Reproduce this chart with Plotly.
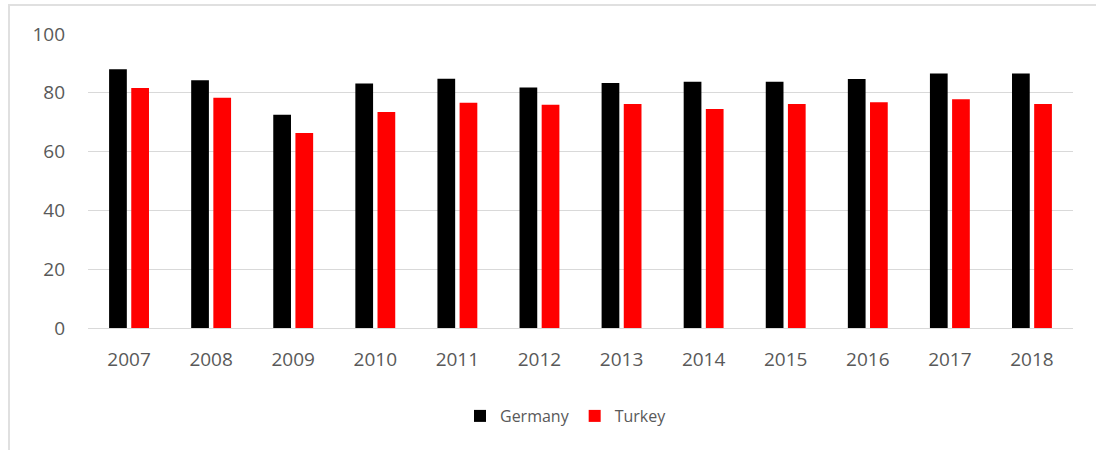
import plotly.graph_objects as go

years = ["2007", "2008", "2009", "2010", "2011", "2012",
         "2013", "2014", "2015", "2016", "2017", "2018"]
germany = [88.0, 84.3, 72.5, 83.2, 84.8, 81.8, 83.3, 83.8, 83.8, 84.7, 86.6, 86.6]
turkey = [81.6, 78.3, 66.3, 73.5, 76.6, 75.9, 76.2, 74.5, 76.2, 76.8, 77.8, 76.2]
y_ticks = [0, 20, 40, 60, 80, 100]

W, H = 1096, 450
L, R, T, B = 88, 23, 34, 122
pw, ph = W - L - R, H - T - B


def px_x(p):
    return (p - L) / pw


def px_y(p):
    return (H - B - p) / ph


font_family = "Open Sans, Liberation Sans, Arial, sans-serif"
label_color = "#595959"

fig = go.Figure()
fig.add_trace(go.Bar(x=years, y=germany, name="Germany",
                     marker=dict(color="#000000", line=dict(width=0))))
fig.add_trace(go.Bar(x=years, y=turkey, name="Turkey",
                     marker=dict(color="#ff0000", line=dict(width=0))))

fig.update_layout(
    width=W, height=H,
    margin=dict(l=L, r=R, t=T, b=B, pad=0),
    paper_bgcolor="white", plot_bgcolor="white",
    barmode="group", bargap=0.46, bargroupgap=0.2,
    font=dict(family=font_family, color=label_color),
    showlegend=True,
    legend=dict(orientation="h", x=px_x(566), xanchor="center",
                y=px_y(416), yanchor="middle",
                font=dict(size=16, color=label_color),
                itemwidth=30, traceorder="normal"),
    xaxis=dict(showgrid=False, showline=False, zeroline=False,
               ticks="", tickfont=dict(size=19, color=label_color),
               ticklabelstandoff=18),
    yaxis=dict(range=[0, 100], tickvals=y_ticks, showgrid=True,
               gridcolor="#d9d9d9", gridwidth=1, zeroline=True,
               zerolinecolor="#d9d9d9", zerolinewidth=1, showline=False,
               ticks="", tickfont=dict(size=19, color=label_color),
               ticklabelstandoff=22),
    shapes=[
        dict(type="line", xref="paper", yref="paper",
             x0=px_x(8), x1=px_x(1100), y0=px_y(5), y1=px_y(5),
             line=dict(color="#e0e0e0", width=2)),
        dict(type="line", xref="paper", yref="paper",
             x0=px_x(9), x1=px_x(9), y0=px_y(5), y1=px_y(452),
             line=dict(color="#e0e0e0", width=2)),
    ],
)

fig.write_html("out.html")
